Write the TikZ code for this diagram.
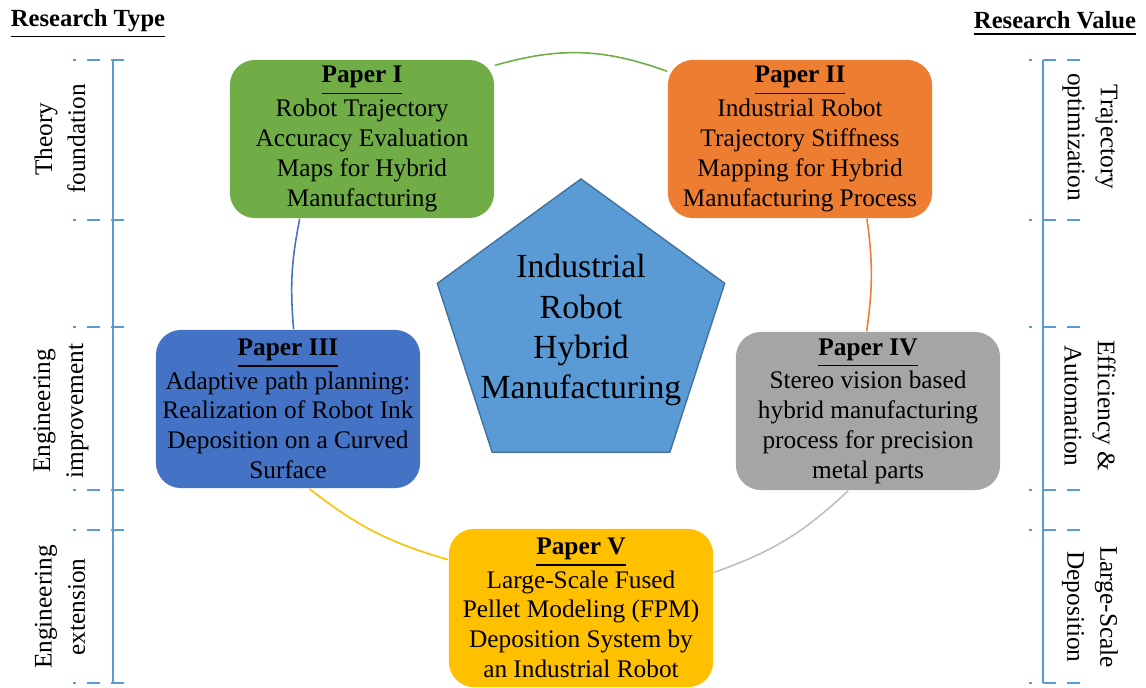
\documentclass[tikz,border=0pt]{standalone}
\usepackage{fontspec}
\setmainfont{LiberationSerif}[Extension=.ttf, UprightFont=*-Regular, BoldFont=*-Bold,
  ItalicFont=*-Italic, BoldItalicFont=*-BoldItalic]
\usetikzlibrary{shapes.geometric}
\definecolor{pgreen}{HTML}{70AD47}
\definecolor{porange}{HTML}{ED7D31}
\definecolor{pblue}{HTML}{4472C4}
\definecolor{pgray}{HTML}{A5A5A5}
\definecolor{plinkgray}{HTML}{BFBFBF}
\definecolor{pyellow}{HTML}{FFC000}
\definecolor{hubblue}{HTML}{5B9BD5}
\definecolor{hubedge}{HTML}{41719C}
\definecolor{barblue}{HTML}{5B9BD5}

\begin{document}
\begin{tikzpicture}[x=0.01cm, y=-0.01cm,
  paper/.style={rectangle, rounded corners=0.25cm, minimum width=2.64cm, minimum height=1.58cm,
    inner sep=0pt, align=center, font=\fontsize{7.2}{8.5}\selectfont},
  side/.style={align=center, font=\fontsize{7.2}{9.4}\selectfont},
  header/.style={font=\fontsize{7}{8.5}\selectfont\bfseries},
  bar/.style={line width=0.6pt, draw=barblue},
  barmark/.style={bar, dash pattern=on 3.7pt off 3.1pt},
  link/.style={line width=0.45pt}]
  \useasboundingbox (0,0) rectangle (1146,687);

  % Headers
  \node [header] (rtype) at (88,24) {\underline{Research Type}};
  \node [header] (rvalue) at (1055,24) {\underline{Research Value}};

  % Left and right brackets
  \draw [bar] (113,60) -- (113,683);
  \draw [bar] (1043,60) -- (1043,683);
  \foreach \y in {60,220,327,490,530,683} {
    \draw [barmark] (124,\y) -- (73,\y);
    \draw [barmark] (1080,\y) -- (1029,\y);
  }

  % Side labels
  \node [side, rotate=90] (theory) at (60,139) {Theory\\foundation};
  \node [side, rotate=90] (engimp) at (61,411) {Engineering\\improvement};
  \node [side, rotate=90] (engext) at (60,607) {Engineering\\extension};
  \node [side, rotate=-90] (trajopt) at (1090,137) {Trajectory\\optimization};
  \node [side, rotate=-90] (effauto) at (1090,406) {Efficiency \&\\Automation};
  \node [side, rotate=-90] (lsdep) at (1090,607) {Large-Scale\\Deposition};

  % Centre pentagon
  \node [regular polygon, regular polygon sides=5, minimum size=3.02cm, inner sep=0pt,
    fill=hubblue, draw=hubedge, line width=0.4pt] (hub) at (581,330) {};
  \node [align=center, font=\fontsize{9.6}{11.4}\selectfont] (hubtext) at (hub.center)
    {Industrial\\Robot\\Hybrid\\Manufacturing};

  % Paper boxes
  \node [paper, fill=pgreen] (paperI) at (362,139)
    {\underline{\textbf{Paper I}}\\Robot Trajectory\\Accuracy Evaluation\\Maps for Hybrid\\Manufacturing};
  \node [paper, fill=porange] (paperII) at (800,139)
    {\underline{\textbf{Paper II}}\\Industrial Robot\\Trajectory Stiffness\\Mapping for Hybrid\\Manufacturing Process};
  \node [paper, fill=pblue] (paperIII) at (288,409)
    {\underline{\textbf{Paper III}}\\Adaptive path planning:\\Realization of Robot Ink\\Deposition on a Curved\\Surface};
  \node [paper, fill=pgray] (paperIV) at (868,411)
    {\underline{\textbf{Paper IV}}\\Stereo vision based\\hybrid manufacturing\\process for precision\\metal parts};
  \node [paper, fill=pyellow] (paperV) at (581,608)
    {\underline{\textbf{Paper V}}\\Large-Scale Fused\\Pellet Modeling (FPM)\\Deposition System by\\an Industrial Robot};

  % Cycle arcs
  \draw [link, draw=pgreen] (paperI.29) to[bend left=18] (paperII.153);
  \draw [link, draw=porange] (paperII.310) to[bend left=8] (paperIV.91);
  \draw [link, draw=plinkgray] (paperIV.256) to[bend left=12] (paperV.15);
  \draw [link, draw=pyellow] (paperV.160) to[bend left=11] (paperIII.285);
  \draw [link, draw=pblue] (paperIII.86) to[bend left=8] (paperI.232);
\end{tikzpicture}
\end{document}
